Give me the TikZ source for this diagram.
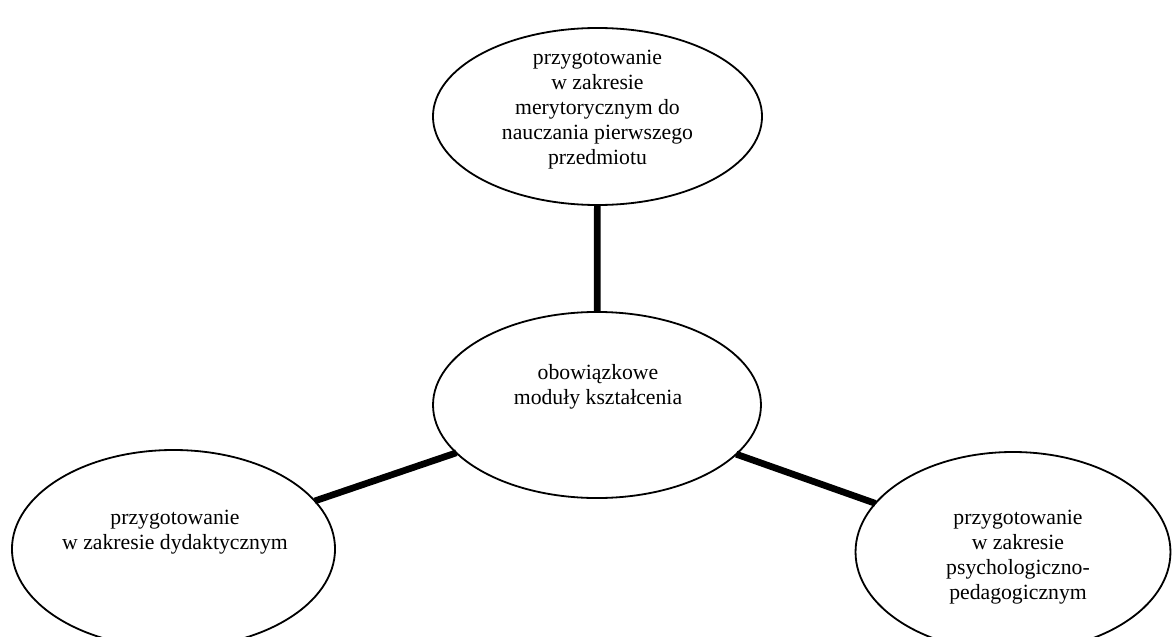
\documentclass[tikz,border=0pt]{standalone}
\usepackage{fontspec}
\setmainfont{Liberation Serif}
\usetikzlibrary{shapes.geometric}
\tikzset{
  oval/.style={ellipse, draw=black, line width=1pt, inner sep=0pt, outer sep=0pt, fill=white},
  label text/.style={align=center, font=\fontsize{12pt}{13.8pt}\selectfont, inner sep=0pt},
  link/.style={line width=3.7pt, black}
}
\begin{document}
\begin{tikzpicture}[x=0.5525pt, y=-0.5525pt]
\clip (0,0) rectangle (1172,637);
\fill[white] (0,0) rectangle (1172,637);
\node[oval, minimum width=181.8pt, minimum height=97.8pt] (top) at (597.5,116.5) {};
\node[oval, minimum width=181.2pt, minimum height=102.8pt] (mid) at (597,405) {};
\node[oval, minimum width=178.5pt, minimum height=109.4pt] (left) at (173.5,549) {};
\node[oval, minimum width=174.0pt, minimum height=110.5pt] (right) at (1013,552) {};
\draw[link] (top) -- (mid);
\draw[link] (left) -- (mid);
\draw[link] (mid) -- (right);
\node[label text] (ttop) at (597.5,109.5) {przygotowanie\\w zakresie\\merytorycznym do\\nauczania pierwszego\\przedmiotu};
\node[label text] (tmid) at (598,386.5) {obowiązkowe\\moduły kształcenia};
\node[label text] (tleft) at (175,532) {przygotowanie\\w zakresie dydaktycznym};
\node[label text] (tright) at (1018,557) {przygotowanie\\w zakresie\\psychologiczno-\\pedagogicznym};
\end{tikzpicture}
\end{document}
